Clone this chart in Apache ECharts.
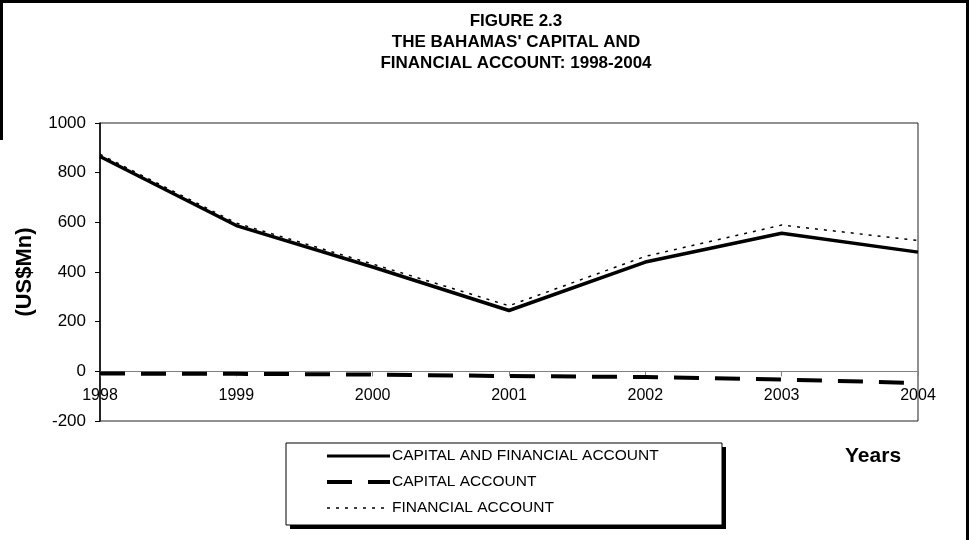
<!DOCTYPE html>
<html>
<head>
<meta charset="utf-8">
<script src="https://cdn.jsdelivr.net/npm/echarts@6/dist/echarts.min.js"></script>
<style>
html,body{margin:0;padding:0;background:#fff;}
#chart{width:969px;height:540px;}
</style>
</head>
<body>
<div id="chart"></div>
<script>
var years = ['1998', '1999', '2000', '2001', '2002', '2003', '2004'];
var capitalAndFinancial = [865, 587, 420, 245, 440, 556, 480];
var capitalAccount = [-9, -10, -13, -19, -23, -33, -47];
var financialAccount = [874, 597, 432, 264, 463, 589, 527];
var yTicks = [-200, 0, 200, 400, 600, 800, 1000];

var FONT = '"Liberation Sans", Arial, sans-serif';
var GRID_TOP = 123, GRID_BOTTOM = 119, CHART_H = 540;
var plotH = CHART_H - GRID_TOP - GRID_BOTTOM;
var yMin = yTicks[0], yMax = yTicks[yTicks.length - 1];
// distance from bottom edge of plot to the zero line, used to place the category axis on zero
var zeroOffset = plotH * (0 - yMin) / (yMax - yMin);

var chart = echarts.init(document.getElementById('chart'), null, {renderer: 'canvas'});

chart.setOption({
  backgroundColor: '#ffffff',
  animation: false,
  textStyle: {fontFamily: FONT, color: '#000'},
  title: [{
    text: "FIGURE 2.3\nTHE BAHAMAS' CAPITAL AND\nFINANCIAL ACCOUNT: 1998-2004",
    left: 511, top: 6, textAlign: 'center',
    textStyle: {fontFamily: FONT, fontSize: 17, fontWeight: 'bold', color: '#000', lineHeight: 21}
  }, {
    text: 'Years',
    left: 840, top: 441,
    textStyle: {fontFamily: FONT, fontSize: 21, fontWeight: 'bold', color: '#000'}
  }],
  grid: {
    left: 100, right: 51, top: GRID_TOP, bottom: GRID_BOTTOM,
    show: true, borderColor: '#222', borderWidth: 1, backgroundColor: 'transparent'
  },
  xAxis: {
    type: 'category',
    data: years,
    boundaryGap: false,
    position: 'bottom',
    offset: -zeroOffset,
    axisLine: {onZero: false, lineStyle: {color: '#808080', width: 1}},
    axisTick: {show: true, inside: false, length: 5, lineStyle: {color: '#808080'}},
    axisLabel: {margin: 16, fontSize: 16, color: '#000', fontFamily: FONT},
    splitLine: {show: false}
  },
  yAxis: {
    type: 'value',
    min: yMin, max: yMax, interval: 200,
    name: '(US$Mn)',
    nameLocation: 'middle',
    nameRotate: 90,
    nameGap: 64,
    nameTextStyle: {fontFamily: FONT, fontSize: 22, fontWeight: 'bold', color: '#000'},
    axisLine: {show: true, lineStyle: {color: '#000', width: 1.5}},
    axisTick: {show: true, inside: false, length: 5, lineStyle: {color: '#000'}},
    axisLabel: {margin: 14, fontSize: 17, color: '#000', fontFamily: FONT,
      formatter: function (v) { return String(v); }},
    splitLine: {show: false}
  },
  legend: {
    orient: 'vertical',
    left: 320, top: 443,
    itemWidth: 63, itemHeight: 14, itemGap: 10,
    itemStyle: {color: 'transparent', borderWidth: 0, opacity: 0},
    textStyle: {fontFamily: FONT, fontSize: 15.5, color: '#000', padding: [0, 0, 0, -3]},
    data: [
      {name: 'CAPITAL AND FINANCIAL ACCOUNT', lineStyle: {width: 3}},
      {name: 'CAPITAL ACCOUNT', lineStyle: {width: 4}},
      {name: 'FINANCIAL ACCOUNT', lineStyle: {width: 1.5}}
    ]
  },
  series: [{
    name: 'CAPITAL AND FINANCIAL ACCOUNT',
    type: 'line',
    data: capitalAndFinancial,
    symbol: 'none',
    lineStyle: {color: '#000', width: 3.5, type: 'solid'},
    itemStyle: {color: '#000'},
    z: 3
  }, {
    name: 'CAPITAL ACCOUNT',
    type: 'line',
    data: capitalAccount,
    symbol: 'none',
    lineStyle: {color: '#000', width: 4, type: [25, 16]},
    itemStyle: {color: '#000'},
    z: 2
  }, {
    name: 'FINANCIAL ACCOUNT',
    type: 'line',
    data: financialAccount,
    symbol: 'none',
    lineStyle: {color: '#000', width: 1.5, type: [3, 6]},
    itemStyle: {color: '#000'},
    z: 1
  }],
  graphic: [
    {type: 'rect', shape: {x: 0, y: 0, width: 969, height: 3}, style: {fill: '#000'}, z: 100},
    {type: 'rect', shape: {x: 966, y: 0, width: 3, height: 540}, style: {fill: '#000'}, z: 100},
    {type: 'rect', shape: {x: 0, y: 0, width: 3, height: 140}, style: {fill: '#000'}, z: 100},
    {type: 'rect', shape: {x: 290, y: 447, width: 436, height: 82}, style: {fill: '#000'}, z: -10},
    {type: 'rect', shape: {x: 286, y: 443, width: 436, height: 82}, style: {fill: '#fff', stroke: '#000', lineWidth: 1}, z: -9}
  ]
});
</script>
</body>
</html>
